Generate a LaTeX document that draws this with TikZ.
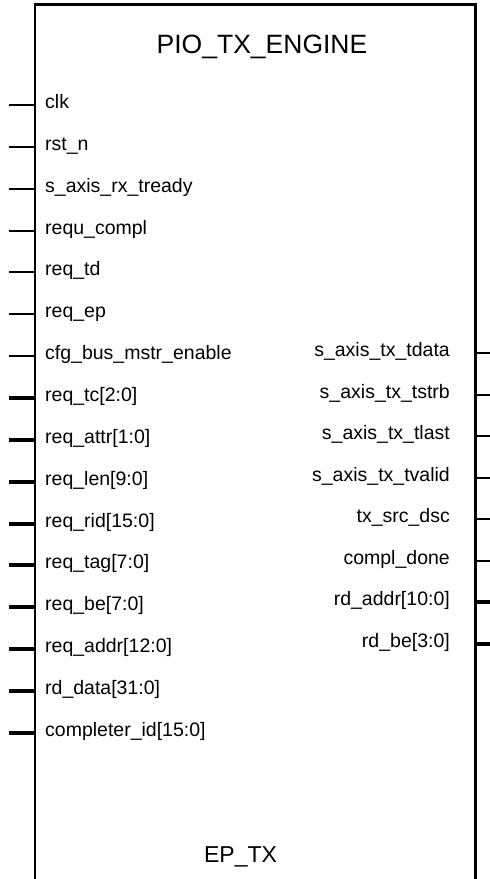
\documentclass[tikz,border=0pt]{standalone}
\usepackage{fontspec}
\setmainfont{Liberation Sans}
\usetikzlibrary{positioning}

\tikzset{
  pinline/.style={line width=2pt},
  busline/.style={line width=4pt},
  sig/.style={font=\fontsize{19.5}{22}\selectfont, inner sep=0pt},
}

\begin{document}
\begin{tikzpicture}[x=1pt,y=-1pt]
  \useasboundingbox (0,0) rectangle (490,879);
  % block outline, open at the bottom
  \coordinate (boxL) at (35,0);
  \coordinate (boxR) at (475.5,0);
  \draw[line width=2.5pt] (35,879) -- (35,4.5) -- (475.5,4.5) -- (475.5,879);
  \node[font=\fontsize{26.5}{30}\selectfont, inner sep=0pt] (title) at (262,47) {PIO\_TX\_ENGINE};
  \node[font=\fontsize{23}{26}\selectfont, inner sep=0pt] (inst) at (240.5,857) {EP\_TX};
  % inputs (single bits)
  \foreach \txt [count=\i] in {clk,rst\_n,s\_axis\_rx\_tready,requ\_compl,req\_td,req\_ep,cfg\_bus\_mstr\_enable}
  {
    \node[sig, anchor=base west] (in\i) at (45,105+41.85*\i-41.85+3.5) {\txt};
    \coordinate (inpin\i) at (9,105+41.85*\i-41.85);
    \draw[pinline] (inpin\i) -- (inpin\i -| boxL);
  }
  % inputs (buses)
  \foreach \txt [count=\i from 8] in {req\_tc[2:0],req\_attr[1:0],req\_len[9:0],req\_rid[15:0],req\_tag[7:0],req\_be[7:0],req\_addr[12:0],rd\_data[31:0],completer\_id[15:0]}
  {
    \node[sig, anchor=base west] (in\i) at (45,105+41.85*\i-41.85+3.5) {\txt};
    \coordinate (inpin\i) at (9,105+41.85*\i-41.85);
    \draw[busline] (inpin\i) -- (inpin\i -| boxL);
  }
  % outputs (single bits)
  \foreach \txt [count=\i] in {s\_axis\_tx\_tdata,s\_axis\_tx\_tstrb,s\_axis\_tx\_tlast,s\_axis\_tx\_tvalid,tx\_src\_dsc,compl\_done}
  {
    \node[sig, anchor=base east] (out\i) at (450,353+41.5*\i-41.5+3.5) {\txt};
    \coordinate (outpin\i) at (490,353+41.5*\i-41.5);
    \draw[pinline] (outpin\i -| boxR) -- (outpin\i);
  }
  % outputs (buses)
  \foreach \txt [count=\i from 7] in {rd\_addr[10:0],rd\_be[3:0]}
  {
    \node[sig, anchor=base east] (out\i) at (450,353+41.5*\i-41.5+3.5) {\txt};
    \coordinate (outpin\i) at (490,353+41.5*\i-41.5);
    \draw[busline] (outpin\i -| boxR) -- (outpin\i);
  }
\end{tikzpicture}
\end{document}
